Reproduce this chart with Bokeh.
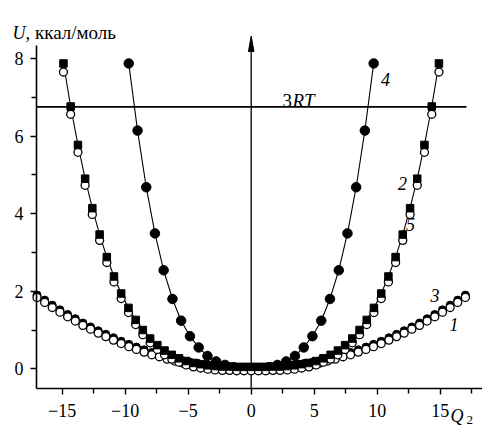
from bokeh.plotting import figure
from bokeh.models import Range1d, Label, FixedTicker, CustomJSTickFormatter
from bokeh.embed import file_html
from bokeh.resources import INLINE

# ---------------- data ----------------
# curve 4 (filled circles)
q4 = [-9.72, -9.02, -8.33, -7.64, -6.95, -6.25, -5.56, -4.86, -4.17, -3.47, -2.78, -2.08, -1.39, -0.69, 0.00,
      0.69, 1.39, 2.08, 2.78, 3.47, 4.17, 4.86, 5.56, 6.25, 6.95, 7.64, 8.33, 9.02, 9.72]
u4 = [7.87, 6.14, 4.68, 3.49, 2.54, 1.80, 1.24, 0.84, 0.55, 0.33, 0.19, 0.10, 0.04, 0.01, 0.00,
      0.01, 0.04, 0.10, 0.19, 0.33, 0.55, 0.84, 1.24, 1.80, 2.54, 3.49, 4.68, 6.14, 7.87]

# curves 2 (filled squares) and 5 (circles)
q25 = [-14.90, -14.33, -13.75, -13.18, -12.61, -12.03, -11.46, -10.89, -10.32, -9.74, -9.17, -8.60, -8.02,
       -7.45, -6.88, -6.30, -5.73, -5.16, -4.58, -4.01, -3.44, -2.87, -2.29, -1.72, -1.15, -0.57, 0.00,
       0.57, 1.15, 1.72, 2.29, 2.87, 3.44, 4.01, 4.58, 5.16, 5.73, 6.30, 6.88, 7.45, 8.02, 8.60, 9.17,
       9.74, 10.32, 10.89, 11.46, 12.03, 12.61, 13.18, 13.75, 14.33, 14.90]
u2 = [7.87, 6.76, 5.77, 4.90, 4.14, 3.46, 2.88, 2.38, 1.94, 1.57, 1.26, 1.00, 0.78,
      0.61, 0.47, 0.36, 0.27, 0.20, 0.15, 0.12, 0.09, 0.07, 0.06, 0.06, 0.05, 0.05, 0.05,
      0.05, 0.05, 0.06, 0.06, 0.07, 0.09, 0.12, 0.15, 0.20, 0.27, 0.36, 0.47, 0.61, 0.78, 1.00, 1.26,
      1.57, 1.94, 2.38, 2.88, 3.46, 4.14, 4.90, 5.77, 6.76, 7.87]
u5 = [7.65, 6.56, 5.58, 4.73, 3.98, 3.31, 2.74, 2.24, 1.81, 1.45, 1.14, 0.88, 0.67,
      0.50, 0.36, 0.25, 0.17, 0.10, 0.05, 0.02, -0.01, -0.03, -0.04, -0.04, -0.05, -0.05, -0.05,
      -0.05, -0.05, -0.04, -0.04, -0.03, -0.01, 0.02, 0.05, 0.10, 0.17, 0.25, 0.36, 0.50, 0.67, 0.88, 1.14,
      1.45, 1.81, 2.24, 2.74, 3.31, 3.98, 4.73, 5.58, 6.56, 7.65]

# curves 1 (open circles) and 3
q13 = [-17.00, -16.39, -15.79, -15.18, -14.57, -13.96, -13.36, -12.75, -12.14, -11.54, -10.93, -10.32,
       -9.71, -9.11, -8.50, -7.89, -7.29, -6.68, -6.07, -5.46, -4.86, -4.25, -3.64, -3.04, -2.43, -1.82,
       -1.21, -0.61, 0.00, 0.61, 1.21, 1.82, 2.43, 3.04, 3.64, 4.25, 4.86, 5.46, 6.07, 6.68, 7.29, 7.89,
       8.50, 9.11, 9.71, 10.32, 10.93, 11.54, 12.14, 12.75, 13.36, 13.96, 14.57, 15.18, 15.79, 16.39, 17.00]
u1 = [1.84, 1.71, 1.58, 1.46, 1.34, 1.23, 1.12, 1.02, 0.92, 0.83, 0.74, 0.65,
      0.57, 0.50, 0.43, 0.36, 0.31, 0.25, 0.20, 0.15, 0.11, 0.08, 0.05, 0.02, 0.00, -0.02,
      -0.03, -0.04, -0.04, -0.04, -0.03, -0.02, 0.00, 0.02, 0.05, 0.08, 0.11, 0.15, 0.20, 0.25, 0.31, 0.36,
      0.43, 0.50, 0.57, 0.65, 0.74, 0.83, 0.92, 1.02, 1.12, 1.23, 1.34, 1.46, 1.58, 1.71, 1.84]
u3 = [1.90, 1.77, 1.64, 1.52, 1.40, 1.29, 1.18, 1.08, 0.98, 0.89, 0.80, 0.71,
      0.63, 0.56, 0.49, 0.42, 0.37, 0.31, 0.26, 0.21, 0.17, 0.14, 0.11, 0.08, 0.06, 0.04,
      0.03, 0.02, 0.02, 0.02, 0.03, 0.04, 0.06, 0.08, 0.11, 0.14, 0.17, 0.21, 0.26, 0.31, 0.37, 0.42,
      0.49, 0.56, 0.63, 0.71, 0.80, 0.89, 0.98, 1.08, 1.18, 1.29, 1.40, 1.52, 1.64, 1.77, 1.90]

level_3rt = 6.75
x_ticks = [-15, -10, -5, 0, 5, 10, 15]
x_minor = [-12.5, -7.5, -2.5, 2.5, 7.5, 12.5, 17.5]
y_ticks = [0, 2, 4, 6, 8]
y_minor = [1, 3, 5, 7]

# ---------------- figure ----------------
FONT = "Liberation Serif"
# pixel helpers (canvas px -> data) for layout/annotation placement only
X0, SX, Y0, SY = 250.7, 12.6, 368.3, 38.8
def dx(px):
    return (px - X0) / SX
def dy(py):
    return (Y0 - py) / SY

W, H = 482, 426
p = figure(width=W, height=H, output_backend="svg", toolbar_location=None,
           x_range=Range1d(dx(0), dx(W)), y_range=Range1d(dy(H), dy(0)),
           min_border_left=0, min_border_right=0, min_border_top=0, min_border_bottom=0)
p.outline_line_color = None
p.grid.visible = False
p.background_fill_color = "white"
p.border_fill_color = "white"

x_left, y_bottom, y_top = dx(36), dy(388), dy(45)

fmt = CustomJSTickFormatter(code="return tick < 0 ? '\u2212' + Math.abs(tick) : String(tick);")
for ax, tk, mn in ((p.xaxis[0], x_ticks, x_minor), (p.yaxis[0], y_ticks, y_minor)):
    ax.ticker = FixedTicker(ticks=tk, minor_ticks=mn)
    ax.formatter = fmt
    ax.axis_line_color = "black"
    ax.axis_line_width = 1.6
    ax.major_tick_line_color = "black"
    ax.major_tick_line_width = 1.4
    ax.minor_tick_line_color = "black"
    ax.minor_tick_line_width = 1.4
    ax.major_tick_in = 0
    ax.major_tick_out = 6
    ax.minor_tick_in = 0
    ax.minor_tick_out = 5
    ax.major_label_text_font = FONT
    ax.major_label_text_font_size = "18px"
    ax.major_label_text_font_style = "normal"
    ax.major_label_text_color = "black"
p.xaxis[0].fixed_location = y_bottom
p.yaxis[0].fixed_location = x_left
p.xaxis[0].bounds = (x_left, dx(W))
p.yaxis[0].bounds = (y_bottom, y_top)
p.xaxis[0].major_label_standoff = 9
p.yaxis[0].major_label_standoff = 7

# 3RT line and vertical axis with arrow
p.segment(x0=x_left, y0=level_3rt, x1=dx(466), y1=level_3rt, line_color="black", line_width=1.8)
p.segment(x0=0, y0=y_bottom, x1=0, y1=dy(40), line_color="black", line_width=1.3)
p.patch([-0.22, 0.0, 0.22], [dy(51), dy(35.5), dy(51)], fill_color="black", line_color="black", line_width=1)

# curve lines
p.line(q4, u4, line_color="black", line_width=1.1)
p.line(q25, u2, line_color="black", line_width=1.1)

# markers
p.scatter(q4, u4, marker="circle", size=9.5, fill_color="black", line_color="black")
p.scatter(q13, u3, marker="circle", size=8, fill_color="black", line_color="black")
p.scatter(q13, u1, marker="circle", size=8, fill_color="white", line_color="black", line_width=1.3)
p.scatter(q25, u5, marker="circle", size=8, fill_color="white", line_color="black", line_width=1.3)
p.scatter(q25, u2, marker="square", size=7.5, fill_color="black", line_color="black")

def lab(text, px, py, style="italic", size="18px", align="center", baseline="middle"):
    p.add_layout(Label(x=dx(px), y=dy(py), text=text, text_font=FONT, text_font_size=size,
                       text_font_style=style, text_align=align, text_baseline=baseline,
                       text_color="black"))

lab("4", 385, 78.5)
lab("2", 402, 183)
lab("5", 410, 224)
lab("3", 434.5, 295)
lab("1", 453.5, 324)
lab("3", 282, 100, style="normal", size="19px", align="left", baseline="alphabetic")
lab("RT", 292, 100, size="19px", align="left", baseline="alphabetic")
lab("U", 12, 32, align="left", baseline="alphabetic")
lab(", ккал/моль", 25, 32, style="normal", size="19px", align="left", baseline="alphabetic")
lab("Q", 450, 415, align="left", baseline="alphabetic")
lab("2", 466, 419, style="normal", size="13px", align="left", baseline="alphabetic")

open("out.html", "w").write(file_html(p, INLINE))
